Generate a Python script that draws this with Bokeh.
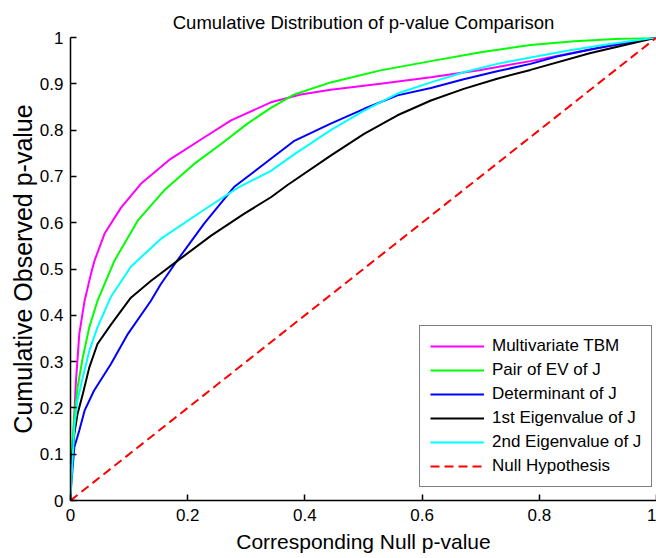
from bokeh.plotting import figure
from bokeh.models import Range1d, FixedTicker
from bokeh.embed import file_html
from bokeh.resources import INLINE

# ---- data ----
tbm_x = [0, 0.001, 0.005, 0.009, 0.015, 0.024, 0.035, 0.041, 0.058, 0.086, 0.12, 0.171, 0.228, 0.274, 0.342, 0.393, 0.444, 0.529, 0.615, 0.700, 0.785, 0.886, 0.95, 1.0]
tbm_y = [0, 0.058, 0.144, 0.252, 0.360, 0.431, 0.490, 0.518, 0.576, 0.632, 0.684, 0.738, 0.784, 0.821, 0.860, 0.877, 0.887, 0.900, 0.914, 0.930, 0.949, 0.974, 0.988, 1.0]

pair_x = [0, 0.001, 0.0065, 0.012, 0.021, 0.032, 0.046, 0.075, 0.115, 0.160, 0.211, 0.257, 0.302, 0.342, 0.382, 0.444, 0.529, 0.615, 0.700, 0.785, 0.86, 0.93, 1.0]
pair_y = [0, 0.086, 0.180, 0.244, 0.309, 0.374, 0.431, 0.518, 0.605, 0.670, 0.727, 0.770, 0.814, 0.848, 0.877, 0.903, 0.929, 0.949, 0.968, 0.984, 0.992, 0.997, 1.0]

det_x = [0, 0.001, 0.0065, 0.015, 0.024, 0.040, 0.069, 0.098, 0.137, 0.154, 0.183, 0.228, 0.279, 0.342, 0.381, 0.444, 0.501, 0.558, 0.615, 0.671, 0.728, 0.785, 0.830, 0.915, 1.0]
det_y = [0, 0.030, 0.115, 0.151, 0.194, 0.237, 0.295, 0.360, 0.431, 0.467, 0.520, 0.598, 0.677, 0.738, 0.776, 0.814, 0.846, 0.875, 0.891, 0.910, 0.927, 0.943, 0.959, 0.981, 1.0]

ev1_x = [0, 0.001, 0.0065, 0.012, 0.021, 0.032, 0.046, 0.069, 0.103, 0.137, 0.183, 0.240, 0.296, 0.342, 0.371, 0.444, 0.501, 0.558, 0.615, 0.671, 0.728, 0.785, 0.886, 1.0]
ev1_y = [0, 0.071, 0.144, 0.187, 0.230, 0.287, 0.338, 0.380, 0.438, 0.474, 0.518, 0.572, 0.619, 0.655, 0.682, 0.745, 0.792, 0.832, 0.864, 0.889, 0.911, 0.930, 0.966, 1.0]

ev2_x = [0, 0.001, 0.0065, 0.012, 0.021, 0.032, 0.046, 0.069, 0.103, 0.154, 0.228, 0.285, 0.342, 0.381, 0.444, 0.501, 0.558, 0.615, 0.671, 0.728, 0.785, 0.85, 0.915, 1.0]
ev2_y = [0, 0.030, 0.158, 0.216, 0.266, 0.323, 0.374, 0.440, 0.505, 0.565, 0.628, 0.675, 0.712, 0.747, 0.800, 0.842, 0.879, 0.903, 0.925, 0.943, 0.957, 0.972, 0.985, 1.0]

null_x = [0, 1]
null_y = [0, 1]

series_names = ["Multivariate TBM", "Pair of EV of J", "Determinant of J",
                "1st Eigenvalue of J", "2nd Eigenvalue of J", "Null Hypothesis"]

x_ticks = [0, 0.2, 0.4, 0.6, 0.8, 1.0]
x_tick_labels = ["0", "0.2", "0.4", "0.6", "0.8", "1"]
y_ticks = [0, 0.1, 0.2, 0.3, 0.4, 0.5, 0.6, 0.7, 0.8, 0.9, 1.0]
y_tick_labels = ["0", "0.1", "0.2", "0.3", "0.4", "0.5", "0.6", "0.7", "0.8", "0.9", "1"]

FONT = "Liberation Sans"

p = figure(width=656, height=558, output_backend="svg", toolbar_location=None,
           x_range=Range1d(0, 1), y_range=Range1d(0, 1),
           title="Cumulative Distribution of p-value Comparison",
           min_border_left=70, min_border_right=0, min_border_top=37, min_border_bottom=58)

p.title.align = "center"
p.title.text_font = FONT
p.title.text_font_size = "18.5px"
p.title.text_font_style = "normal"
p.title.text_color = "#000000"
p.title.standoff = 9

p.grid.visible = False
p.outline_line_color = None
p.background_fill_color = "white"
p.border_fill_color = "white"

p.xaxis.ticker = FixedTicker(ticks=x_ticks)
p.yaxis.ticker = FixedTicker(ticks=y_ticks)
p.xaxis.major_label_overrides = dict(zip(x_ticks, x_tick_labels))
p.yaxis.major_label_overrides = dict(zip(y_ticks, y_tick_labels))

p.xaxis.axis_label = "Corresponding Null p-value"
p.yaxis.axis_label = "Cumulative Observed p-value"

for ax in (p.xaxis[0], p.yaxis[0]):
    ax.axis_line_color = "black"
    ax.axis_line_width = 1.5
    ax.major_tick_line_color = "black"
    ax.major_tick_line_width = 1.5
    ax.major_tick_in = 6
    ax.major_tick_out = 0
    ax.minor_tick_line_color = None
    ax.major_label_text_font = FONT
    ax.major_label_text_font_size = "17px"
    ax.major_label_text_color = "black"
    ax.axis_label_text_font = FONT
    ax.axis_label_text_font_style = "normal"
    ax.axis_label_text_color = "black"

p.xaxis.major_label_standoff = 8
p.xaxis.axis_label_standoff = 6
p.xaxis.axis_label_text_font_size = "21px"
p.yaxis.major_label_standoff = 7
p.yaxis.axis_label_standoff = 0
p.yaxis.axis_label_text_font_size = "25px"

p.line(tbm_x, tbm_y, line_color="#FF00FF", line_width=2, legend_label=series_names[0])
p.line(pair_x, pair_y, line_color="#00FF00", line_width=2, legend_label=series_names[1])
p.line(det_x, det_y, line_color="#0000FF", line_width=2, legend_label=series_names[2])
p.line(ev1_x, ev1_y, line_color="#000000", line_width=2, legend_label=series_names[3])
p.line(ev2_x, ev2_y, line_color="#00FFFF", line_width=2, legend_label=series_names[4])
p.line(null_x, null_y, line_color="#FF0000", line_width=2, line_dash="9 5", legend_label=series_names[5])

lg = p.legend[0]
lg.location = (349, 13)
lg.border_line_color = "black"
lg.border_line_width = 1.5
lg.background_fill_color = "white"
lg.background_fill_alpha = 1
lg.padding = 10
lg.spacing = 4
lg.margin = 0
lg.glyph_width = 54
lg.glyph_height = 20
lg.label_height = 20
lg.label_standoff = 8
lg.label_text_font = FONT
lg.label_text_font_size = "17px"
lg.label_text_color = "black"

open("out.html", "w").write(file_html(p, INLINE))
